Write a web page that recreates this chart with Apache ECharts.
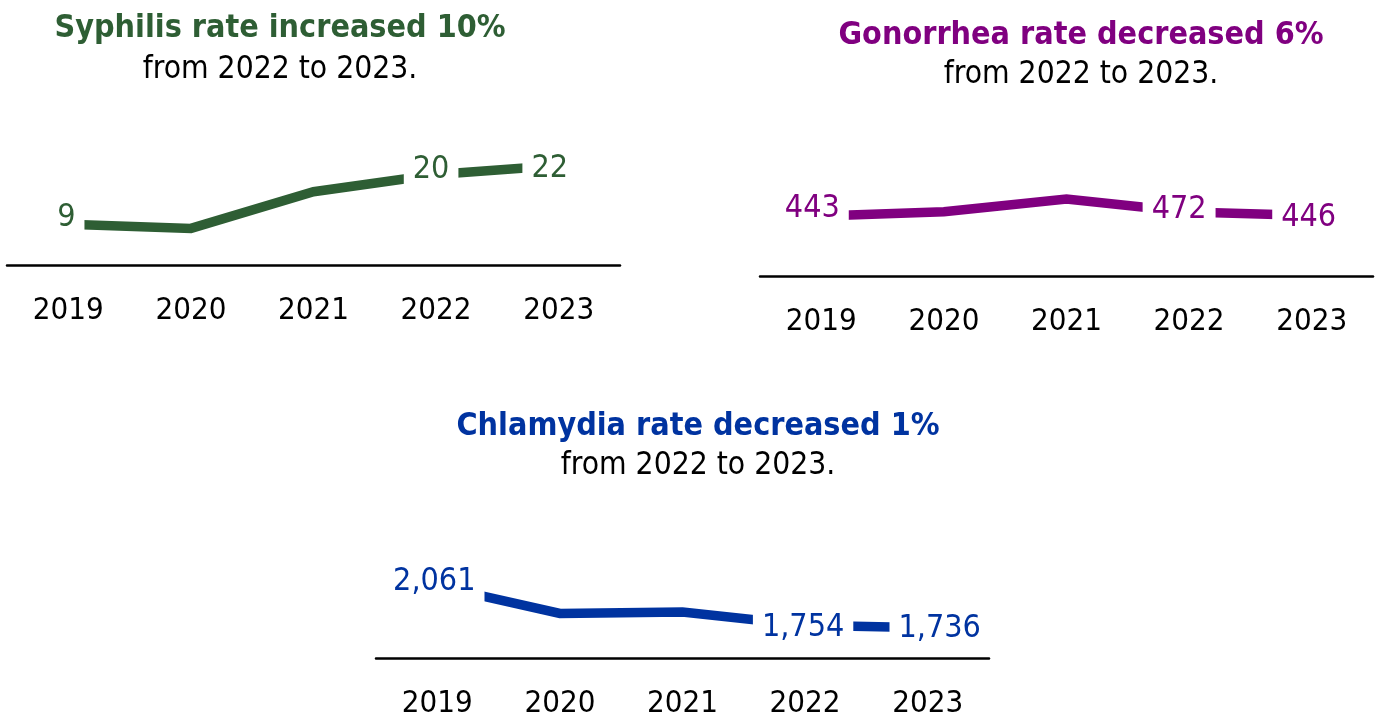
<!DOCTYPE html>
<html>
<head>
<meta charset="utf-8">
<script src="https://cdn.jsdelivr.net/npm/echarts@6/dist/echarts.min.js"></script>
<style>
  html, body { margin: 0; padding: 0; background: #ffffff; }
  #chart { width: 1382px; height: 719px; }
</style>
</head>
<body>
<div id="chart"></div>
<script>
// ---- data ----
const years = ['2019', '2020', '2021', '2022', '2023'];
const syphilisRates = [9, 8.1, 16.2, 20, 22];
const gonorrheaRates = [443, 474, 568, 472, 446];
const chlamydiaRates = [2061, 1847, 1858, 1754, 1736];
const labelledYears = ['2019', '2022', '2023'];
const headlines = ['Syphilis rate increased 10%', 'Gonorrhea rate decreased 6%', 'Chlamydia rate decreased 1%'];
const subline = 'from 2022 to 2023.';

// ---- style ----
const FONT = '"DejaVu Sans Condensed", "DejaVu Sans", sans-serif';
const panels = [
  { name: 'Syphilis', values: syphilisRates, color: '#2E5E34',
    grid: { left: 7, width: 613, top: 152, height: 113 }, yMin: 0, yMax: 25,
    titleX: 280, titleY: 29, subY: 70,
    labelOffsets: [[-2, -7], null, null, [-5, -5], [-9, 3]] },
  { name: 'Gonorrhea', values: gonorrheaRates, color: '#800080',
    grid: { left: 760, width: 613, top: 181, height: 95 }, yMin: 0, yMax: 700,
    titleX: 1081, titleY: 36, subY: 75,
    labelOffsets: [[-9, -7], null, null, [-10, -2], [-3, 2]] },
  { name: 'Chlamydia', values: chlamydiaRates, color: '#0033A0',
    grid: { left: 376, width: 613, top: 568, height: 95 }, yMin: 1500, yMax: 2200,
    titleX: 698, titleY: 427, subY: 466,
    labelOffsets: [[-3, -4], null, null, [-2, 2], [12, 1]] }
];

const fmt = v => Math.round(v).toLocaleString('en-US');

const option = {
  animation: false,
  backgroundColor: '#ffffff',
  grid: panels.map(p => Object.assign({ containLabel: false }, p.grid)),
  xAxis: panels.map((p, i) => ({
    type: 'category', gridIndex: i, data: years, boundaryGap: true,
    axisLine: { show: true, onZero: false, lineStyle: { color: '#000', width: 2.5 } },
    axisTick: { show: false },
    axisLabel: { color: '#000', fontSize: 31, fontFamily: FONT, margin: 30, interval: 0 },
    splitLine: { show: false }
  })),
  yAxis: panels.map((p, i) => ({
    type: 'value', gridIndex: i, min: p.yMin, max: p.yMax, show: false,
    splitLine: { show: false }
  })),
  series: panels.map((p, i) => ({
    type: 'line', xAxisIndex: i, yAxisIndex: i, name: p.name,
    symbol: 'circle', symbolSize: 2, showSymbol: true, clip: false,
    itemStyle: { color: p.color },
    lineStyle: { color: p.color, width: 9.5, join: 'miter', cap: 'butt' },
    z: 2,
    label: {
      show: false, position: 'inside', color: p.color, fontSize: 32, fontFamily: FONT,
      backgroundColor: '#ffffff', padding: [8, 9],
      formatter: params => fmt(params.value)
    },
    data: p.values.map((v, k) => {
      const shown = labelledYears.indexOf(years[k]) >= 0;
      const item = { value: v };
      if (shown) item.label = { show: true, offset: p.labelOffsets[k] || [0, 0] };
      return item;
    })
  })),
  graphic: panels.flatMap((p, i) => [
    { type: 'text', x: p.titleX, y: p.titleY, z: 10,
      style: { text: headlines[i], fill: p.color, fontSize: 32, fontWeight: 'bold', fontFamily: FONT,
               align: 'center', verticalAlign: 'middle', textAlign: 'center', textVerticalAlign: 'middle' } },
    { type: 'text', x: p.titleX, y: p.subY, z: 10,
      style: { text: subline, fill: '#000', fontSize: 31.5, fontFamily: FONT,
               align: 'center', verticalAlign: 'middle', textAlign: 'center', textVerticalAlign: 'middle' } }
  ])
};

const chart = echarts.init(document.getElementById('chart'), null, { renderer: 'canvas' });
chart.setOption(option);
</script>
</body>
</html>
